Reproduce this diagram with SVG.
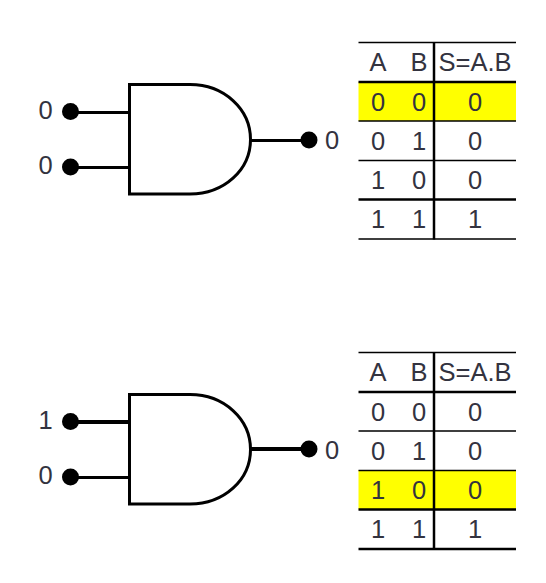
<svg xmlns="http://www.w3.org/2000/svg" width="546" height="583" viewBox="0 0 546 583">
<style>
text{font-family:"Liberation Sans",Arial,sans-serif;font-size:25.500px;fill:#33333f;text-anchor:middle}
.w{stroke:#000;stroke-width:3;fill:none}
.wb{stroke:#000;stroke-width:4;fill:none}
.g{stroke:#000;stroke-width:3;fill:#fff}
.d{fill:#000}
.hl{fill:#ffff00}
.t1{stroke:#000;stroke-width:1.5}
.t2{stroke:#000;stroke-width:2.500}
</style>
<defs>
<path id="gate" d="M129.500 84.500H190C224 84.500 250.500 109 250.500 139.500C250.500 170 224 194 190 194H129.500Z"/>
</defs>
<g id="connectors">
<path class="w" d="M71 112.500H129"/>
<path class="w" d="M71 167.500H129"/>
<path class="w" d="M251 140.500H309"/>
<path class="wb" d="M71 422H129"/>
<path class="w" d="M71 477.500H129"/>
<path class="wb" d="M251 449H309"/>
</g>
<g id="gate-top"><use href="#gate" class="g"/></g>
<g id="gate-bottom"><use href="#gate" y="310" class="g"/></g>
<g id="in-a-top"><circle class="d" cx="70.500" cy="111.500" r="8.500"/><text x="45.500" y="118.500">0</text></g>
<g id="in-b-top"><circle class="d" cx="70.500" cy="167" r="8.500"/><text x="45.500" y="173.500">0</text></g>
<g id="out-top"><circle class="d" cx="309" cy="140" r="8.500"/><text x="332" y="148.500">0</text></g>
<g id="in-a-bottom"><circle class="d" cx="70.500" cy="421.500" r="8.500"/><text x="45.500" y="428.500">1</text></g>
<g id="in-b-bottom"><circle class="d" cx="70.500" cy="477" r="8.500"/><text x="45.500" y="483.500">0</text></g>
<g id="out-bottom"><circle class="d" cx="309" cy="449" r="8.500"/><text x="332" y="458.500">0</text></g>
<g id="table-top">
<rect class="hl" x="358.500" y="82" width="157.500" height="39"/>
<path class="t1" d="M358.500 42.500H516M358.500 121H516M358.500 160.500H516M358.500 239H516"/>
<path class="t2" d="M358.500 82H516M358.500 199.500H516"/>
<path class="t2" d="M434 42V239.500"/>
<text x="378" y="71">A</text><text x="419" y="71">B</text><text x="475" y="71">S=A.B</text>
<text x="378" y="110.500">0</text><text x="419" y="110.500">0</text><text x="475" y="110.500">0</text>
<text x="378" y="149.500">0</text><text x="419" y="149.500">1</text><text x="475" y="149.500">0</text>
<text x="378" y="188.500">1</text><text x="419" y="188.500">0</text><text x="475" y="188.500">0</text>
<text x="378" y="228">1</text><text x="419" y="228">1</text><text x="475" y="228">1</text>
</g>
<g id="table-bottom">
<rect class="hl" x="358.500" y="470" width="157.500" height="39.500"/>
<path class="t1" d="M358.500 352.500H516M358.500 431H516M358.500 470.500H516"/>
<path class="t2" d="M358.500 392H516M358.500 509.500H516M358.500 549H516"/>
<path class="t2" d="M434 352V549.500"/>
<text x="378" y="381">A</text><text x="419" y="381">B</text><text x="475" y="381">S=A.B</text>
<text x="378" y="420.500">0</text><text x="419" y="420.500">0</text><text x="475" y="420.500">0</text>
<text x="378" y="459.500">0</text><text x="419" y="459.500">1</text><text x="475" y="459.500">0</text>
<text x="378" y="498.500">1</text><text x="419" y="498.500">0</text><text x="475" y="498.500">0</text>
<text x="378" y="538">1</text><text x="419" y="538">1</text><text x="475" y="538">1</text>
</g>
</svg>
